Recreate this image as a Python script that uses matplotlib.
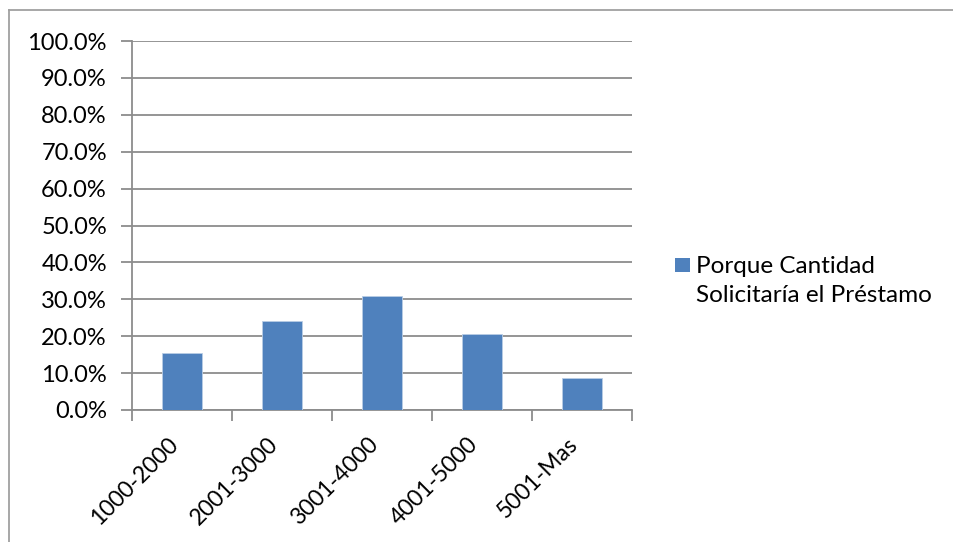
import numpy as np
import matplotlib.pyplot as plt
from matplotlib.lines import Line2D
from matplotlib.patches import Rectangle
from matplotlib.ticker import FixedLocator, PercentFormatter

categories = ['1000-2000', '2001-3000', '3001-4000', '4001-5000', '5001-Mas']
values = [15.5, 24.1, 31.0, 20.7, 8.6]
series_name = 'Porque Cantidad\nSolicitaría el Préstamo'
y_ticks = np.arange(0, 101, 10)

bar_color = '#4f81bd'
grid_color = '#8c8c8c'

plt.rcParams['font.family'] = ['Lato', 'DejaVu Sans']

fig = plt.figure(figsize=(9.54, 5.42), dpi=100)
W, H = 954, 542
ax = fig.add_axes([132 / W, (H - 410) / H, 500 / W, 369 / H])

x = np.arange(len(categories))
ax.bar(x, values, width=0.4, color=bar_color, edgecolor='#b9cde5', linewidth=0.6, zorder=3)

ax.set_xlim(-0.5, len(categories) - 0.5)
ax.set_ylim(0, 100)
ax.set_yticks(y_ticks)
ax.yaxis.set_major_formatter(PercentFormatter(decimals=1))
ax.yaxis.grid(True, color=grid_color, linewidth=1.3, zorder=0)
ax.tick_params(axis='y', length=8, width=1.3, color=grid_color, labelsize=17, pad=10)

# category labels centred, tick marks between categories
ax.set_xticks(x)
ax.set_xticklabels(categories, rotation=45, ha='right', va='top', fontsize=16.5)
ax.tick_params(axis='x', which='major', length=0, pad=17)
ax.xaxis.set_minor_locator(FixedLocator(np.arange(-0.5, len(categories), 1.0)))
ax.tick_params(axis='x', which='minor', length=8, width=1.3, color=grid_color)

for side in ['top', 'right']:
    ax.spines[side].set_visible(False)
for side in ['left', 'bottom']:
    ax.spines[side].set_color(grid_color)
    ax.spines[side].set_linewidth(1.3)

# legend drawn by hand: square key next to the first line of a two-line label
fig.add_artist(Rectangle((675 / W, 1 - 272 / H), 15 / W, 14 / H,
                         transform=fig.transFigure, facecolor=bar_color, edgecolor='none'))
fig.text(696 / W, 1 - 256 / H, series_name, ha='left', va='top',
         fontsize=17.5, linespacing=1.45)

# outer chart border (only left and top visible)
fig.add_artist(Line2D([9 / W, 9 / W], [0, 1 - 10 / H], color='#a0a0a0', linewidth=1.3))
fig.add_artist(Line2D([9 / W, 1], [1 - 10 / H, 1 - 10 / H], color='#a0a0a0', linewidth=1.3))

plt.savefig('out.png', dpi=100)
plt.close()
